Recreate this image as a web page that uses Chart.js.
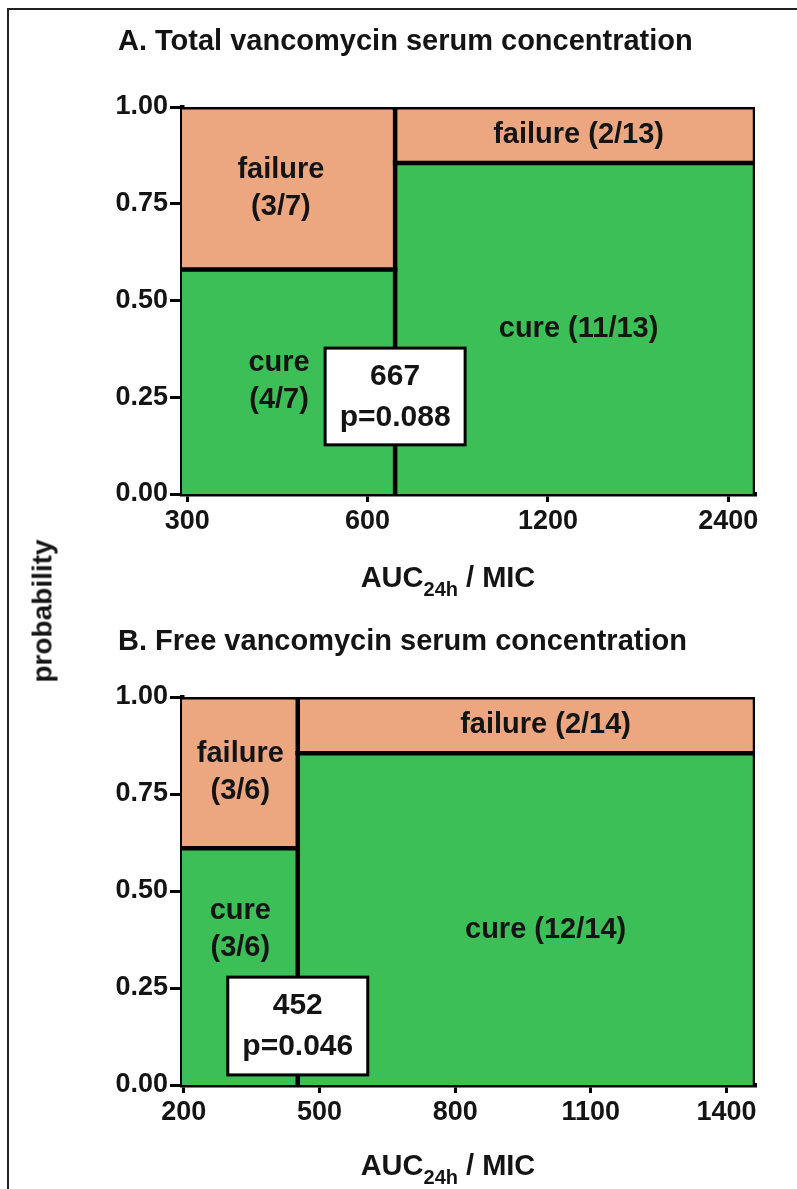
<!DOCTYPE html>
<html>
<head>
<meta charset="utf-8">
<script src="https://cdn.jsdelivr.net/npm/chart.js@4.4.1/dist/chart.umd.min.js"></script>
<style>
  html, body { margin: 0; padding: 0; background: #ffffff; }
  #page { position: relative; width: 797px; height: 1189px; overflow: hidden;
          font-family: "Liberation Sans", Arial, sans-serif; font-weight: bold; color: #141414; }
  #frame { position: absolute; left: 7px; top: 8px; width: 1000px; height: 1400px; border: 2px solid #222; }
  canvas { position: absolute; left: 0; }
  .t { position: absolute; white-space: nowrap; line-height: 29px; }
  .t sub { font-size: 20px; line-height: 0; vertical-align: -9px; }
</style>
</head>
<body>
<div id="page">
  <div id="frame"></div>
  <canvas id="chartA" width="797" height="600" style="top:0;width:797px;height:600px"></canvas>
  <canvas id="chartB" width="797" height="589" style="top:600px;width:797px;height:589px"></canvas>
  <div class="t" style="left:118px;top:26px;font-size:29px;">A. Total vancomycin serum concentration</div>
  <div class="t" style="left:118px;top:626px;font-size:29px;">B. Free vancomycin serum concentration</div>
  <div class="t" style="left:448px;top:577px;transform:translate(-50%,-50%);font-size:29px;">AUC<sub>24h</sub> / MIC</div>
  <div class="t" style="left:448px;top:1165px;transform:translate(-50%,-50%);font-size:29px;">AUC<sub>24h</sub> / MIC</div>
  <div class="t" style="left:42px;top:611px;transform:translate(-50%,-50%) rotate(-90deg);font-size:28px;">probability</div>
</div>
<script>
// ---------- data ----------
// Panel A: total vancomycin, x = AUC24h/MIC on a log axis
const edgesA   = [294, 667, 2660];          // axis start, cut-off, axis end
const cureA    = [0.58, 0.855];             // probability of cure per group
const cureTextA = [['cure', '(4/7)'], ['cure (11/13)']];
const failTextA = [['failure', '(3/7)'], ['failure (2/13)']];
const ticksA   = [300, 600, 1200, 2400];
const cutTextA = ['667', 'p=0.088'];

// Panel B: free vancomycin, x = AUC24h/MIC on a linear axis
const edgesB   = [196, 452, 1463];
const cureB    = [0.61, 0.855];
const cureTextB = [['cure', '(3/6)'], ['cure (12/14)']];
const failTextB = [['failure', '(3/6)'], ['failure (2/14)']];
const ticksB   = [200, 500, 800, 1100, 1400];
const cutTextB = ['452', 'p=0.046'];

const yTicks = [0, 0.25, 0.5, 0.75, 1];

// ---------- styles ----------
const GREEN = '#3dbf58';
const SALMON = '#eca781';
const INK = '#000000';
const FONT = '"Liberation Sans", Arial, sans-serif';
const LW = 4.5;

function buildDatasets(edges, cure) {
  const ds = [];
  for (let i = 0; i < cure.length; i++) {
    ds.push({ label: 'cure', data: [{x: edges[i], y: cure[i]}, {x: edges[i + 1], y: cure[i]}],
      showLine: true, fill: 'origin', backgroundColor: GREEN, borderColor: INK,
      borderWidth: LW, pointRadius: 0, borderCapStyle: 'square' });
    ds.push({ label: 'failure', data: [{x: edges[i], y: 1}, {x: edges[i + 1], y: 1}],
      showLine: true, fill: {value: cure[i]}, backgroundColor: SALMON, borderColor: INK,
      borderWidth: LW + 0.5, pointRadius: 0, borderCapStyle: 'square' });
  }
  for (let j = 1; j < edges.length; j++) {
    ds.push({ label: 'edge', data: [{x: edges[j], y: 0}, {x: edges[j], y: 1}],
      showLine: true, fill: false, borderColor: INK, borderWidth: LW, pointRadius: 0,
      borderCapStyle: 'square' });
  }
  return ds;
}

const textPlugin = {
  id: 'mosaicText',
  afterDatasetsDraw(chart, args, opts) {
    const ctx = chart.ctx;
    const xs = chart.scales.x, ys = chart.scales.y;
    ctx.save();
    ctx.fillStyle = '#141414';
    ctx.textAlign = 'center';
    ctx.textBaseline = 'middle';
    ctx.font = 'bold 29px ' + FONT;
    const lh = 37;
    (opts.labels || []).forEach(l => {
      const px = xs.getPixelForValue(l.x);
      const py = ys.getPixelForValue(l.y);
      const n = l.lines.length;
      l.lines.forEach((s, k) => ctx.fillText(s, px, py + (k - (n - 1) / 2) * lh));
    });
    const b = opts.box;
    if (b) {
      const cx = xs.getPixelForValue(b.x);
      const top = ys.getPixelForValue(b.top);
      const bot = ys.getPixelForValue(b.bottom);
      const w = b.width;
      ctx.fillStyle = '#ffffff';
      ctx.fillRect(cx - w / 2, top, w, bot - top);
      ctx.lineWidth = 3;
      ctx.strokeStyle = INK;
      ctx.strokeRect(cx - w / 2, top, w, bot - top);
      ctx.fillStyle = '#141414';
      ctx.font = 'bold 30px ' + FONT;
      ctx.fillText(b.lines[0], cx, top + 29);
      ctx.fillText(b.lines[1], cx, top + 70);
    }
    ctx.restore();
  }
};

function makeChart(id, cfg) {
  const xScale = {
    type: cfg.xType, min: cfg.edges[0], max: cfg.edges[cfg.edges.length - 1], z: 1,
    afterBuildTicks: s => { s.ticks = cfg.ticks.map(v => ({value: v})); },
    afterFit: s => { s.height = 50; },
    ticks: { autoSkip: false, maxRotation: 0, padding: 3, color: '#141414',
             font: {family: FONT, size: 27, weight: 'bold'}, callback: v => String(v) },
    grid: { display: true, drawOnChartArea: false, drawTicks: true, tickLength: 8,
            lineWidth: 3, color: INK },
    border: { display: true, width: LW, color: INK }
  };
  const yScale = {
    type: 'linear', min: 0, max: 1, z: 1,
    afterBuildTicks: s => { s.ticks = yTicks.map(v => ({value: v})); },
    afterFit: s => { s.width = 182; },
    ticks: { padding: 2, color: '#141414', font: {family: FONT, size: 27, weight: 'bold'},
             callback: v => Number(v).toFixed(2) },
    grid: { display: true, drawOnChartArea: false, drawTicks: true, tickLength: 12,
            lineWidth: 3, color: INK },
    border: { display: true, width: LW, color: INK }
  };
  return new Chart(document.getElementById(id), {
    type: 'scatter',
    data: { datasets: buildDatasets(cfg.edges, cfg.cure) },
    options: {
      responsive: false, animation: false, devicePixelRatio: 1,
      layout: { padding: cfg.padding },
      scales: { x: xScale, y: yScale },
      plugins: {
        legend: { display: false }, tooltip: { enabled: false },
        filler: { drawTime: 'beforeDatasetsDraw' },
        mosaicText: { labels: cfg.labels, box: cfg.box }
      }
    },
    plugins: [textPlugin]
  });
}

makeChart('chartA', {
  xType: 'logarithmic', edges: edgesA, cure: cureA, ticks: ticksA,
  padding: { top: 107, bottom: 56, left: 0, right: 42 },
  labels: [
    { x: 430, y: 0.79, lines: failTextA[0] },
    { x: 427, y: 0.29, lines: cureTextA[0] },
    { x: 1350, y: 0.9275, lines: failTextA[1] },
    { x: 1350, y: 0.4275, lines: cureTextA[1] }
  ],
  box: { x: edgesA[1], top: 0.377, bottom: 0.127, width: 140, lines: cutTextA }
});

makeChart('chartB', {
  xType: 'linear', edges: edgesB, cure: cureB, ticks: ticksB,
  padding: { top: 97, bottom: 54, left: 0, right: 42 },
  labels: [
    { x: 325, y: 0.805, lines: failTextB[0] },
    { x: 325, y: 0.40, lines: cureTextB[0] },
    { x: 1000, y: 0.9275, lines: failTextB[1] },
    { x: 1000, y: 0.40, lines: cureTextB[1] }
  ],
  box: { x: edgesB[1], top: 0.278, bottom: 0.026, width: 140, lines: cutTextB }
});
</script>
</body>
</html>
